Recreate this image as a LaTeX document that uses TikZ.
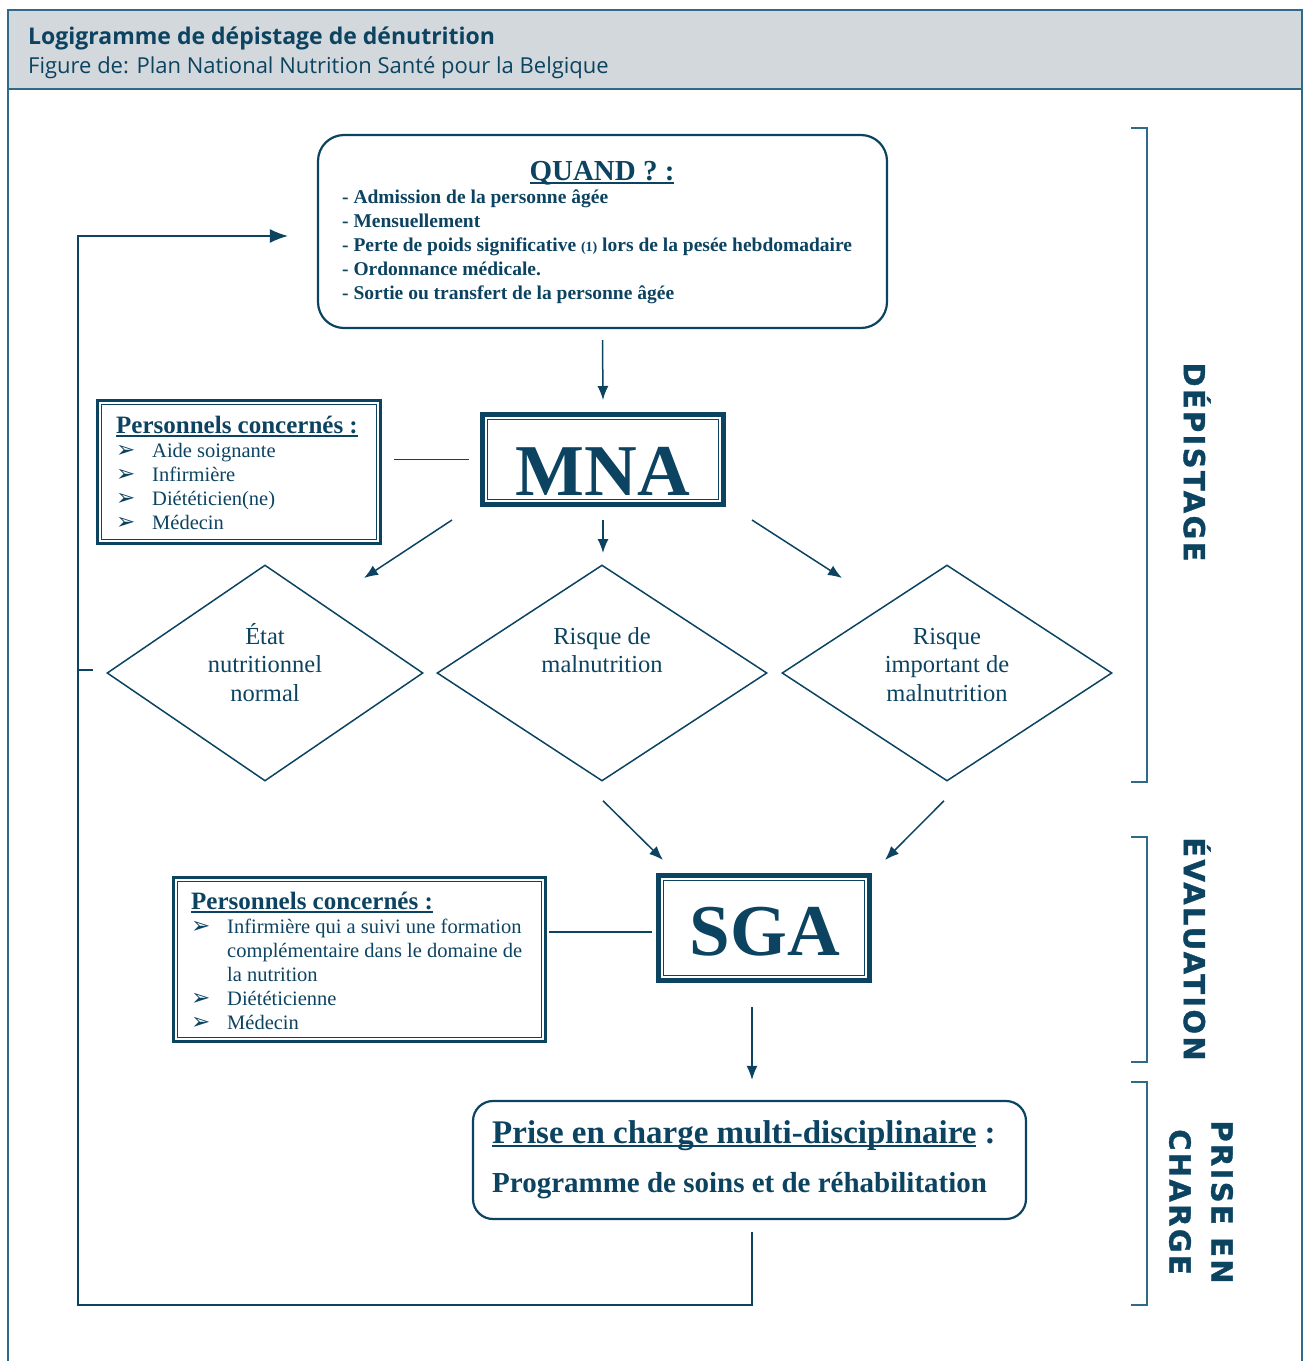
\documentclass[tikz,border=0pt]{standalone}
\usepackage{fontspec}
\setmainfont{Liberation Serif}
\newfontfamily\hdfont{Open Sans}
\newfontfamily\labfont[LetterSpace=8,FakeBold=1.2]{DejaVu Sans Bold}
\newfontfamily\symfont{DejaVu Sans}
\usetikzlibrary{shapes.geometric,arrows.meta}
\definecolor{navy}{HTML}{0C4361}
\definecolor{framec}{HTML}{2F6B88}
\definecolor{hdr}{HTML}{D3D8DC}
\newcommand\myfs[2]{\fontsize{#1}{#2}\selectfont}
\newsavebox\ulbox
\newcommand\myul[1]{\sbox\ulbox{#1}\rlap{\rule[-4pt]{\wd\ulbox}{2.4pt}}\usebox\ulbox}
\newcommand\bul{\makebox[36pt][l]{\symfont\myfs{23}{18}➢}}
\tikzset{
  ln/.style={draw=navy, line width=1.5pt},
  arr/.style={ln, -{Latex[length=14pt,width=11pt]}},
  bigarr/.style={ln, -{Latex[length=18pt,width=14pt]}},
  roundbox/.style={draw=navy, line width=2.2pt, rounded corners=26pt},
  thickbox/.style={draw=navy, line width=5pt},
  dblbox/.style={draw=navy, line width=3pt},
  dia/.style={diamond, draw=navy, line width=1.5pt, inner sep=0pt},
  txt/.style={text=navy, inner sep=0pt},
  brk/.style={draw=framec, line width=1.6pt},
  lab/.style={txt, rotate=-90, font=\labfont\myfs{29}{42}, align=center}
}
\begin{document}
\begin{tikzpicture}[x=1pt,y=-1pt]
\useasboundingbox (0,0) rectangle (1303,1361);
% header and frame
\fill[hdr] (8,10) rectangle (1302,89);
\draw[framec, line width=1.5pt] (8,1361) -- (8,10) -- (1302,10) -- (1302,1361);
\draw[framec, line width=1.2pt] (8,89) -- (1302,89);
\node[txt, anchor=base west, font=\hdfont\bfseries\myfs{23}{23}] (title) at (28,44) {Logigramme de dépistage de dénutrition};
\node[txt, anchor=base west, font=\hdfont\myfs{22}{22}] (subtitle) at (28,73) {Figure de: Plan National Nutrition Santé pour la Belgique};

% QUAND box
\node[roundbox, minimum width=569pt, minimum height=193pt] (quand) at (602.5,231.5) {};
\node[txt, anchor=base, font=\bfseries\myfs{29}{29}] (qtitle) at (602,180) {\myul{QUAND ? :}};
\node[txt, anchor=base west, align=left, font=\bfseries\myfs{19.5}{24}] (qlist) at (342,299)
  {- Admission de la personne âgée\\
   - Mensuellement\\
   - Perte de poids significative {\myfs{14}{14}(1)} lors de la pesée hebdomadaire\\
   - Ordonnance médicale.\\
   - Sortie ou transfert de la personne âgée};

% MNA
\node[thickbox, minimum width=241pt, minimum height=90pt] (mna) at (603,459.5) {};
\draw[navy, line width=0.9pt] ([shift={(7.5,7.5)}]mna.north west) rectangle ([shift={(-7.5,-7.5)}]mna.south east);
\node[txt, anchor=base, font=\bfseries\myfs{73}{73}] (mnat) at (603,495) {MNA};

% personnel box 1
\node[dblbox, minimum width=283pt, minimum height=143pt] (p1) at (239,472) {};
\draw[navy, line width=0.9pt] ([shift={(5.5,5.5)}]p1.north west) rectangle ([shift={(-5.5,-5.5)}]p1.south east);
\node[txt, anchor=base west, font=\bfseries\myfs{25}{25}] (p1t) at (116,433) {\myul{Personnels concernés :}};
\node[txt, anchor=base west, align=left, font=\myfs{20.5}{23.7}] (p1l) at (116,529)
  {\bul Aide soignante\\ \bul Infirmière\\ \bul Diététicien(ne)\\ \bul Médecin};
\coordinate (p1c) at (394,459.5);
\draw[ln] (p1c) -- ([shift={(-11,0)}]mna.west);

% arrows
\draw[arr] ([shift={(0,11)}]quand.south) -- ([shift={(0,-12)}]mna.north);
\draw[arr] ([shift={(-28,13)}]mna.south west) -- ([shift={(-116,71)}]mna.south west);
\draw[arr] ([shift={(0,13)}]mna.south) -- ([shift={(0,-12)}]mna.south |- 0,565);
\draw[arr] ([shift={(26,13)}]mna.south east) -- ([shift={(116,71)}]mna.south east);

% diamonds
\node[dia, minimum width=316pt, minimum height=216pt] (d1) at (265,673) {};
\node[dia, minimum width=330pt, minimum height=216pt] (d2) at (602,673) {};
\node[dia, minimum width=330pt, minimum height=216pt] (d3) at (947,673) {};
\node[txt, anchor=base, align=center, font=\myfs{24.5}{28.5}] (t1) at (265,701) {État\\nutritionnel\\normal};
\node[txt, anchor=base, align=center, font=\myfs{24.5}{28.5}] (t2) at (602,672.5) {Risque de\\malnutrition};
\node[txt, anchor=base, align=center, font=\myfs{24.5}{28.5}] (t3) at (947,701) {Risque\\important de\\malnutrition};

% SGA
\node[thickbox, minimum width=211pt, minimum height=105pt] (sga) at (764,928) {};
\draw[navy, line width=0.9pt] ([shift={(7.5,7.5)}]sga.north west) rectangle ([shift={(-7.5,-7.5)}]sga.south east);
\node[txt, anchor=base, font=\bfseries\myfs{73}{73}] (sgat) at (765,955) {SGA};
\draw[arr] ([shift={(1,19)}]d2.south) -- ([shift={(7,-13)}]sga.north west);
\draw[arr] ([shift={(-3,19)}]d3.south) -- ([shift={(13,-13)}]sga.north east);

% personnel box 2
\node[dblbox, minimum width=372pt, minimum height=164pt] (p2) at (359.5,959.5) {};
\draw[navy, line width=0.9pt] ([shift={(5.5,5.5)}]p2.north west) rectangle ([shift={(-5.5,-5.5)}]p2.south east);
\node[txt, anchor=base west, font=\bfseries\myfs{25}{25}] (p2t) at (191,909) {\myul{Personnels concernés :}};
\node[txt, anchor=base west, align=left, font=\myfs{20.5}{24}] (p2l) at (191,1029)
  {\bul Infirmière qui a suivi une formation\\
   \hspace*{36pt}complémentaire dans le domaine de\\
   \hspace*{36pt}la nutrition\\
   \bul Diététicienne\\
   \bul Médecin};
\draw[ln] ([shift={(-4,4)}]sga.west) -- ([shift={(-107,4)}]sga.west);

% prise en charge
\node[roundbox, minimum width=553pt, minimum height=118pt, rounded corners=20pt] (prise) at (749.5,1160) {};
\node[txt, anchor=base west, font=\bfseries\myfs{33}{33}] (prt) at (492,1143) {\myul{Prise en charge multi-disciplinaire} :};
\node[txt, anchor=base west, font=\bfseries\myfs{29}{29}] (prl) at (492,1192) {Programme de soins et de réhabilitation};
\draw[arr] ([shift={(-12,24)}]sga.south) -- ([shift={(2.5,-20)}]prise.north);

% feedback loop
\coordinate (lb) at (78,1305);
\coordinate (lt) at (78,236);
\coordinate (ls) at (78,670);
\draw[bigarr] ([shift={(2.5,12)}]prise.south) |- (lb) -- (lt) -- ([shift={(-29,4.5)}]quand.west);
\draw[ln] (ls) -- ([shift={(-13,-3)}]d1.west);

% brackets
\draw[brk] (1131,128) -- (1147,128) -- (1147,782) -- (1131,782);
\draw[brk] (1131,837) -- (1147,837) -- (1147,1062) -- (1131,1062);
\draw[brk] (1131,1082) -- (1147,1082) -- (1147,1305) -- (1131,1305);
\node[lab] (l1) at (1197,462) {DÉPISTAGE};
\node[lab] (l2) at (1197,949) {ÉVALUATION};
\node[lab] (l3) at (1201,1202) {PRISE EN\\CHARGE};
\end{tikzpicture}
\end{document}
